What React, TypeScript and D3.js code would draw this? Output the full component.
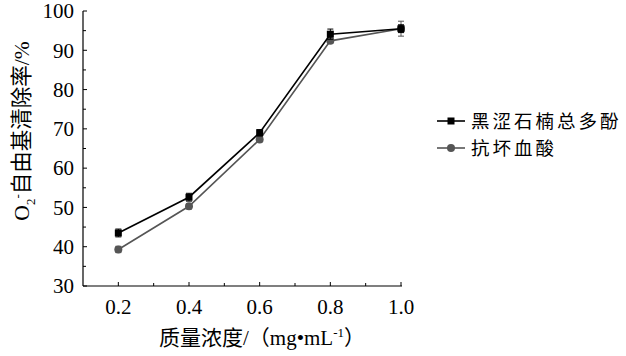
import React from "react";
import * as d3 from "d3";

const concentrations = [0.2, 0.4, 0.6, 0.8, 1.0];
const polyphenol = [43.5, 52.6, 69.0, 94.1, 95.5];
const polyphenolErr = [1.0, 1.0, 0.8, 1.3, 1.0];
const vitaminC = [39.3, 50.3, 67.3, 92.4, 95.5];
const vitaminCErr = [0.8, 0.7, 0.6, 0.6, 1.9];
const xTicks = [0.2, 0.4, 0.6, 0.8, 1.0];
const xMinorTicks = [0.3, 0.5, 0.7, 0.9];
const yTicks = [30, 40, 50, 60, 70, 80, 90, 100];
const yMinorTicks = [35, 45, 55, 65, 75, 85, 95];
const seriesNames = ["黑涩石楠总多酚", "抗坏血酸"];

const W = 626, H = 356;
const FONT = "'Liberation Serif', 'Times New Roman', 'Noto Sans CJK SC', serif";

export default function App() {
  const x = d3.scaleLinear().domain([0.1, 1.0]).range([83, 401]);
  const y = d3.scaleLinear().domain([30, 100]).range([286, 11]);
  const line = d3.line<number>().x((_, i) => x(concentrations[i])).y(d => y(d));

  const series = [
    { name: seriesNames[0], vals: polyphenol, err: polyphenolErr, color: "#000", shape: "square" },
    { name: seriesNames[1], vals: vitaminC, err: vitaminCErr, color: "#555", shape: "circle" },
  ];

  const marker = (shape: string, cx: number, cy: number, color: string, key: string) =>
    shape === "square" ? (
      <rect key={key} x={cx - 3.5} y={cy - 3.5} width={7} height={7} fill={color} />
    ) : (
      <circle key={key} cx={cx} cy={cy} r={4} fill={color} />
    );

  return (
    <svg width={W} height={H} style={{ position: "absolute", left: 0, top: 0, background: "#fff" }} fontFamily={FONT}>
      <rect width={W} height={H} fill="#fff" />
      {/* axes */}
      <line x1={83} y1={y(100)} x2={83} y2={286} stroke="#000" strokeWidth={1.2} />
      <line x1={83} y1={286} x2={x(1.0) + 1} y2={286} stroke="#000" strokeWidth={1.2} />
      {yTicks.map(t => (
        <g key={"yt" + t}>
          <line x1={83} x2={87} y1={y(t)} y2={y(t)} stroke="#000" />
          <text x={74} y={y(t)} dy="0.35em" textAnchor="end" fontSize={21}>{t}</text>
        </g>
      ))}
      {yMinorTicks.map(t => (
        <line key={"ym" + t} x1={83} x2={86} y1={y(t)} y2={y(t)} stroke="#000" />
      ))}
      {xTicks.map(t => (
        <g key={"xt" + t}>
          <line x1={x(t)} x2={x(t)} y1={286} y2={282} stroke="#000" />
          <text x={x(t)} y={314} textAnchor="middle" fontSize={21}>{t.toFixed(1)}</text>
        </g>
      ))}
      {xMinorTicks.map(t => (
        <line key={"xm" + t} x1={x(t)} x2={x(t)} y1={286} y2={283} stroke="#000" />
      ))}
      {/* axis titles */}
      <text x={262} y={345} textAnchor="middle" fontSize={21}>
        质量浓度/（mg•mL<tspan dy={-8} fontSize={13}>-1</tspan><tspan dy={8}>）</tspan>
      </text>
      <g transform="translate(29,131) rotate(-90)">
        <text x={0} y={0} textAnchor="middle" fontSize={21.5}>
          O<tspan dy={6} fontSize={13}>2</tspan><tspan dy={-13} fontSize={13}>-</tspan><tspan dy={7}>自由基清除率/%</tspan>
        </text>
      </g>
      {/* series */}
      {series.slice().reverse().map(s => (
        <g key={s.name}>
          <path d={line(s.vals) || ""} fill="none" stroke={s.color} strokeWidth={1.6} />
          {s.vals.map((v, i) => {
            const cx = x(concentrations[i]);
            const top = y(v + s.err[i]), bot = y(v - s.err[i]);
            return (
              <g key={i}>
                <line x1={cx} x2={cx} y1={top} y2={bot} stroke={s.color} />
                <line x1={cx - 3} x2={cx + 3} y1={top} y2={top} stroke={s.color} />
                <line x1={cx - 3} x2={cx + 3} y1={bot} y2={bot} stroke={s.color} />
                {marker(s.shape, cx, y(v), s.color, "m" + i)}
              </g>
            );
          })}
        </g>
      ))}
      {/* legend */}
      {series.map((s, i) => {
        const ly = 121 + i * 27;
        return (
          <g key={"lg" + i}>
            <line x1={437} x2={465} y1={ly} y2={ly} stroke={s.color} strokeWidth={1.6} />
            {marker(s.shape, 451, ly, s.color, "lm" + i)}
            <text x={471} y={ly} dy="0.36em" fontSize={18.5} letterSpacing={3} fontFamily="'Noto Sans CJK SC', sans-serif">{s.name}</text>
          </g>
        );
      })}
    </svg>
  );
}
